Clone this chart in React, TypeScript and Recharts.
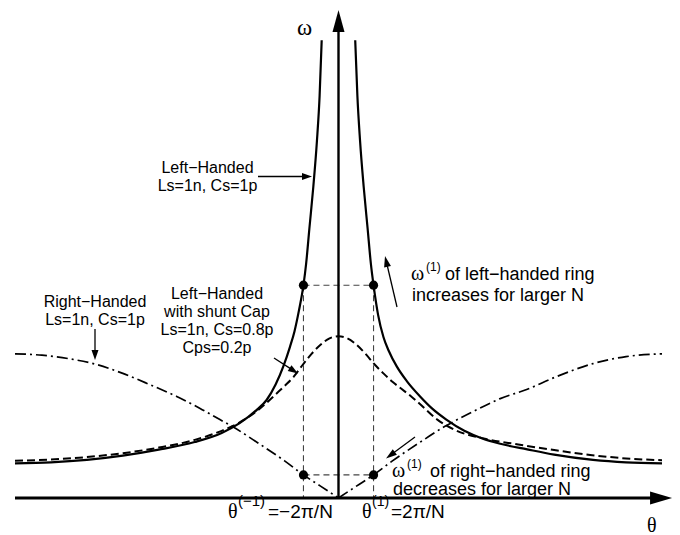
import React from 'react';
import { ComposedChart, Line, XAxis, YAxis, ReferenceLine, ReferenceDot } from 'recharts';

// Left-handed ring (Ls=1n, Cs=1p), two branches
const lhLeftTheta = [-180, -160, -140, -120, -100, -80, -65, -55, -45, -40, -35, -30.7, -27, -24.5, -22, -19.5, -18, -16.2, -14, -12, -10.5, -9.35];
const lhLeftOmega = [0.496, 0.51, 0.545, 0.605, 0.69, 0.8, 0.93, 1.07, 1.27, 1.4, 1.62, 1.88, 2.16, 2.38, 2.68, 3.04, 3.35, 3.85, 4.45, 5.1, 5.75, 6.54];
const lhRightTheta = [9.3, 10.5, 12, 14, 16.2, 18, 19.5, 22, 25, 28, 32.4, 38, 45.4, 52, 60, 70, 80, 90, 105, 120, 141.6, 160, 180];
const lhRightOmega = [6.54, 5.75, 5.1, 4.45, 3.85, 3.35, 3.04, 2.62, 2.3, 2.1, 1.88, 1.67, 1.45, 1.28, 1.12, 0.96, 0.85, 0.775, 0.695, 0.62, 0.545, 0.51, 0.496];

// Left-handed with shunt cap
const shuntTheta = [-180, -160, -140, -120, -100, -80, -65, -55, -45, -40, -35, -30, -25, -20, -15, -10, -5, 0, 5, 10, 15, 20, 25, 30, 35, 40, 45, 55, 65, 80, 100, 120, 140, 160, 180];
const shuntOmega = [0.533, 0.55, 0.585, 0.64, 0.72, 0.83, 0.96, 1.08, 1.25, 1.36, 1.48, 1.6, 1.73, 1.9, 2.06, 2.19, 2.28, 2.31, 2.28, 2.19, 2.06, 1.91, 1.78, 1.66, 1.56, 1.46, 1.35, 1.12, 0.97, 0.855, 0.765, 0.685, 0.615, 0.565, 0.54];

// Right-handed ring, two halves
const rhLeftTheta = [-180, -165, -150, -135, -120, -105, -90, -77, -66, -59, -45, -30, -19.5, -10, 0];
const rhLeftOmega = [2.06, 2.04, 1.99, 1.91, 1.78, 1.62, 1.45, 1.28, 1.12, 1.02, 0.79, 0.53, 0.33, 0.17, 0];
const rhRightTheta = [0, 10, 19.5, 30, 45, 59, 67.6, 80, 90, 104.7, 120, 141.6, 160, 180];
const rhRightOmega = [0, 0.17, 0.33, 0.53, 0.79, 1.02, 1.14, 1.3, 1.42, 1.55, 1.72, 1.92, 2.02, 2.06];

// First-mode markers
const markerTheta = [-19.5, 19.5];
const markerOmegaLH = 3.04;
const markerOmegaRH = 0.33;

// Axis extents
const thetaDomain = [-180, 180];
const omegaDomain = [0, 7];
const axisTipTheta = 185.6;
const axisTipOmega = 6.97;

const zip = (t: number[], w: number[]) => t.map((theta, i) => ({ theta, omega: w[i] }));

const lhLeft = zip(lhLeftTheta, lhLeftOmega);
const lhRight = zip(lhRightTheta, lhRightOmega);
const shunt = zip(shuntTheta, shuntOmega);
const rhLeft = zip(rhLeftTheta, rhLeftOmega);
const rhRight = zip(rhRightTheta, rhRightOmega);

const SANS = 'Liberation Sans, Arial, Helvetica, sans-serif';
const SERIF = 'Liberation Serif, Times New Roman, serif';

function Arrow({ x1, y1, x2, y2, len = 9, half = 3.5, w = 1.3 }: any) {
  const dx = x2 - x1;
  const dy = y2 - y1;
  const d = Math.sqrt(dx * dx + dy * dy);
  const ux = dx / d;
  const uy = dy / d;
  const bx = x2 - ux * len;
  const by = y2 - uy * len;
  const px = -uy * half;
  const py = ux * half;
  return (
    <g>
      <line x1={x1} y1={y1} x2={bx + ux * 1} y2={by + uy * 1} stroke="#000" strokeWidth={w} />
      <polygon points={`${x2},${y2} ${bx + px},${by + py} ${bx - px},${by - py}`} fill="#000" />
    </g>
  );
}

export default function App() {
  const guide = { stroke: '#444', strokeWidth: 1.1, strokeDasharray: '6 4', ifOverflow: 'visible' as const };
  return (
    <div style={{ position: 'absolute', left: 0, top: 0, width: 680, height: 535, background: '#fff' }}>
      <ComposedChart width={680} height={535} margin={{ top: 8, right: 18, bottom: 37, left: 15 }}>
        <XAxis type="number" dataKey="theta" domain={thetaDomain} hide allowDataOverflow />
        <YAxis type="number" dataKey="omega" domain={omegaDomain} hide allowDataOverflow />

        {/* guide lines */}
        <ReferenceLine segment={[{ x: markerTheta[0], y: markerOmegaLH }, { x: markerTheta[0], y: 0 }]} {...guide} />
        <ReferenceLine segment={[{ x: markerTheta[1], y: markerOmegaLH }, { x: markerTheta[1], y: 0 }]} {...guide} />
        <ReferenceLine segment={[{ x: markerTheta[0], y: markerOmegaLH }, { x: markerTheta[1], y: markerOmegaLH }]} {...guide} />
        <ReferenceLine segment={[{ x: markerTheta[0], y: markerOmegaRH }, { x: markerTheta[1], y: markerOmegaRH }]} {...guide} />

        <Line data={rhLeft} dataKey="omega" type="monotone" stroke="#000" strokeWidth={1.7} strokeDasharray="11 4 2 4" dot={false} isAnimationActive={false} />
        <Line data={rhRight} dataKey="omega" type="monotone" stroke="#000" strokeWidth={1.7} strokeDasharray="11 4 2 4" dot={false} isAnimationActive={false} />
        <Line data={shunt} dataKey="omega" type="monotone" stroke="#000" strokeWidth={2} strokeDasharray="8 4" dot={false} isAnimationActive={false} />
        <Line data={lhLeft} dataKey="omega" type="monotone" stroke="#000" strokeWidth={2.2} dot={false} isAnimationActive={false} />
        <Line data={lhRight} dataKey="omega" type="monotone" stroke="#000" strokeWidth={2.2} dot={false} isAnimationActive={false} />

        {/* axes */}
        <ReferenceLine segment={[{ x: thetaDomain[0], y: 0 }, { x: axisTipTheta - 6, y: 0 }]} stroke="#000" strokeWidth={3} ifOverflow="visible" />
        <ReferenceLine segment={[{ x: 0, y: 0 }, { x: 0, y: axisTipOmega - 0.15 }]} stroke="#000" strokeWidth={2.4} ifOverflow="visible" />
        <ReferenceDot
          x={axisTipTheta}
          y={0}
          ifOverflow="visible"
          shape={(p: any) => <polygon points={`${p.cx},${p.cy} ${p.cx - 22},${p.cy - 6.5} ${p.cx - 22},${p.cy + 6.5}`} fill="#000" />}
        />
        <ReferenceDot
          x={0}
          y={axisTipOmega}
          ifOverflow="visible"
          shape={(p: any) => <polygon points={`${p.cx},${p.cy} ${p.cx - 6},${p.cy + 22} ${p.cx + 6},${p.cy + 22}`} fill="#000" />}
        />

        {/* markers */}
        {markerTheta.map((t) => (
          <ReferenceDot key={'a' + t} x={t} y={markerOmegaLH} r={4.6} fill="#000" stroke="none" ifOverflow="visible" />
        ))}
        {markerTheta.map((t) => (
          <ReferenceDot key={'b' + t} x={t} y={markerOmegaRH} r={4.6} fill="#000" stroke="none" ifOverflow="visible" />
        ))}
      </ComposedChart>

      <svg width={680} height={535} style={{ position: 'absolute', left: 0, top: 0, pointerEvents: 'none' }}>
        {/* axis titles */}
        <text x={297} y={35} fontFamily={SERIF} fontSize={23}>ω</text>
        <text x={647} y={532} fontFamily={SERIF} fontSize={20}>θ</text>

        {/* Left-handed label */}
        <g fontFamily={SANS} fontSize={16} textAnchor="middle">
          <text x={207.5} y={173}>Left−Handed</text>
          <text x={207.5} y={191}>Ls=1n, Cs=1p</text>
        </g>
        <Arrow x1={258} y1={176.5} x2={312} y2={176.5} len={10} half={3.5} />

        {/* Right-handed label */}
        <g fontFamily={SANS} fontSize={16} textAnchor="middle">
          <text x={95} y={307}>Right−Handed</text>
          <text x={95} y={325}>Ls=1n, Cs=1p</text>
        </g>
        <Arrow x1={95} y1={329} x2={95} y2={360} len={10} half={3.5} />

        {/* shunt label */}
        <g fontFamily={SANS} fontSize={16} textAnchor="middle">
          <text x={217} y={299}>Left−Handed</text>
          <text x={217} y={317}>with shunt Cap</text>
          <text x={217} y={335}>Ls=1n, Cs=0.8p</text>
          <text x={217} y={353}>Cps=0.2p</text>
        </g>
        <Arrow x1={274} y1={358} x2={298} y2={373.5} len={10} half={3.5} />

        {/* left-handed ring annotation */}
        <Arrow x1={397} y1={307} x2={385} y2={256} len={11} half={3.5} />
        <text x={411} y={280} fontFamily={SERIF} fontSize={20}>ω</text>
        <text x={426} y={271} fontFamily={SANS} fontSize={12}>(1)</text>
        <text x={445} y={280} fontFamily={SANS} fontSize={18}>of left−handed ring</text>
        <text x={412} y={301} fontFamily={SANS} fontSize={18}>increases for larger N</text>

        {/* right-handed ring annotation */}
        <Arrow x1={415} y1={437} x2={386} y2={458.5} len={11} half={3.5} />
        <text x={392} y={477} fontFamily={SERIF} fontSize={20}>ω</text>
        <text x={407} y={468} fontFamily={SANS} fontSize={12}>(1)</text>
        <text x={430} y={477} fontFamily={SANS} fontSize={18}>of right−handed ring</text>
        <text x={393} y={495} fontFamily={SANS} fontSize={18}>decreases for larger N</text>

        {/* theta tick labels */}
        <text x={228} y={518} fontFamily={SERIF} fontSize={20}>θ</text>
        <text x={238} y={506} fontFamily={SANS} fontSize={15}>(−1)</text>
        <text x={268} y={518} fontFamily={SANS} fontSize={19}>=−2π/N</text>

        <text x={362} y={518} fontFamily={SERIF} fontSize={20}>θ</text>
        <text x={372} y={506} fontFamily={SANS} fontSize={14}>(1)</text>
        <text x={391} y={518} fontFamily={SANS} fontSize={19}>=2π/N</text>
      </svg>
    </div>
  );
}
